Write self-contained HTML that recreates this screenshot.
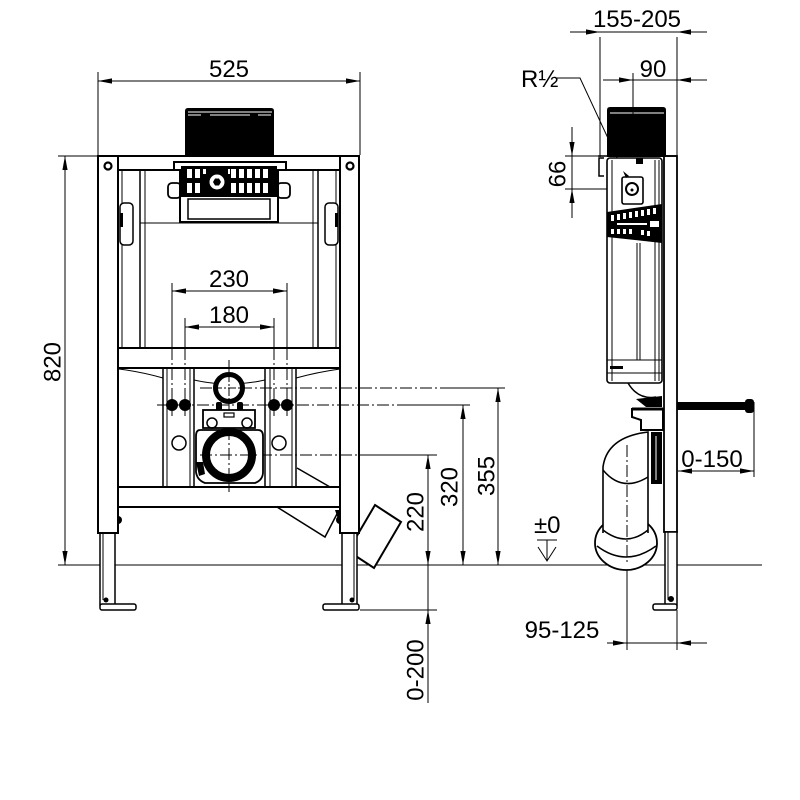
<!DOCTYPE html>
<html><head><meta charset="utf-8"><style>
html,body{margin:0;padding:0;background:#fff;}
svg{display:block;}
text{font-family:"Liberation Sans",Arial,sans-serif;font-size:24px;fill:#000;stroke:none;}
</style></head><body>
<svg width="800" height="800" viewBox="0 0 800 800" xmlns="http://www.w3.org/2000/svg">
<defs>
<marker id="a" viewBox="0 0 14 6" refX="14" refY="3" markerWidth="14" markerHeight="6" orient="auto-start-reverse" markerUnits="userSpaceOnUse"><path d="M0,0.4 L14,3 L0,5.6z" fill="#000"/></marker>
</defs>
<rect width="800" height="800" fill="#fff"/>

<!-- ============ DIMENSIONS ============ -->
<g fill="none" stroke="#000" stroke-width="1">
  <line x1="98" y1="72" x2="98" y2="155"/>
  <line x1="360" y1="72" x2="360" y2="155"/>
  <line x1="98" y1="81" x2="360" y2="81" marker-start="url(#a)" marker-end="url(#a)"/>
  <line x1="58" y1="156" x2="98" y2="156"/>
  <line x1="65" y1="156" x2="65" y2="565" marker-start="url(#a)" marker-end="url(#a)"/>
  <line x1="58" y1="565" x2="762" y2="565"/>
  <line x1="172" y1="283" x2="172" y2="348"/>
  <line x1="287" y1="283" x2="287" y2="348"/>
  <line x1="172" y1="291" x2="287" y2="291" marker-start="url(#a)" marker-end="url(#a)"/>
  <line x1="185" y1="318" x2="185" y2="348"/>
  <line x1="274" y1="318" x2="274" y2="348"/>
  <line x1="185" y1="327" x2="274" y2="327" marker-start="url(#a)" marker-end="url(#a)"/>
  <line x1="498" y1="388" x2="498" y2="565" marker-start="url(#a)" marker-end="url(#a)"/>
  <line x1="463" y1="405" x2="463" y2="565" marker-start="url(#a)" marker-end="url(#a)"/>
  <line x1="428" y1="455" x2="428" y2="565" marker-start="url(#a)" marker-end="url(#a)"/>
  <line x1="428" y1="565" x2="428" y2="610"/>
  <line x1="428" y1="703" x2="428" y2="610" marker-end="url(#a)"/>
  <line x1="360" y1="610" x2="437" y2="610"/>
  <line x1="600" y1="37" x2="600" y2="157"/>
  <line x1="677" y1="37" x2="677" y2="157"/>
  <line x1="600" y1="32" x2="677" y2="32"/>
  <line x1="570" y1="32" x2="600" y2="32" marker-end="url(#a)"/>
  <line x1="707" y1="32" x2="677" y2="32" marker-end="url(#a)"/>
  <line x1="633" y1="73" x2="633" y2="108"/>
  <line x1="603" y1="80" x2="707" y2="80"/>
  <line x1="603" y1="80" x2="633" y2="80" marker-end="url(#a)"/>
  <line x1="707" y1="80" x2="677" y2="80" marker-end="url(#a)"/>
  <line x1="565" y1="156" x2="607" y2="156"/>
  <line x1="565" y1="189" x2="648" y2="189"/>
  <line x1="572" y1="127" x2="572" y2="218"/>
  <line x1="572" y1="127" x2="572" y2="156" marker-end="url(#a)"/>
  <line x1="572" y1="218" x2="572" y2="189" marker-end="url(#a)"/>
  <polyline points="557,78 580,78 626,177"/>
  <line x1="754" y1="402" x2="754" y2="477"/>
  <line x1="678" y1="471" x2="754" y2="471" marker-start="url(#a)" marker-end="url(#a)"/>
  <line x1="627" y1="565" x2="627" y2="650"/>
  <line x1="677" y1="610" x2="677" y2="650"/>
  <line x1="607" y1="643" x2="707" y2="643"/>
  <line x1="607" y1="643" x2="627" y2="643" marker-end="url(#a)"/>
  <line x1="707" y1="643" x2="677" y2="643" marker-end="url(#a)"/>
  <line x1="537" y1="540" x2="557" y2="540"/>
  <line x1="547" y1="540" x2="547" y2="561"/>
  <polyline points="538,547 547,561 556,547"/>
</g>

<!-- ============ FRONT VIEW ============ -->
<g fill="none" stroke="#000">
  <polygon points="375,505 401,522 374,568 348,551" fill="#fff" stroke-width="2"/>
  <polyline points="277,507 325,537 338,512" stroke-width="1.5"/>
  <polygon points="335,510 340,510 340,525" fill="#000" stroke="none"/>
  <rect x="100" y="533" width="15" height="72" fill="#fff" stroke-width="1.5"/>
  <line x1="103" y1="533" x2="103" y2="600" stroke-width="1"/>
  <rect x="100" y="604" width="36" height="6" rx="2" fill="#fff" stroke-width="1.5"/>
  <circle cx="106" cy="600" r="2.5" fill="#000" stroke="none"/>
  <rect x="342" y="533" width="15" height="72" fill="#fff" stroke-width="1.5"/>
  <line x1="354" y1="533" x2="354" y2="600" stroke-width="1"/>
  <rect x="323" y="604" width="36" height="6" rx="2" fill="#fff" stroke-width="1.5"/>
  <circle cx="352" cy="600" r="2.5" fill="#000" stroke="none"/>

  <rect x="98" y="156" width="20" height="377" fill="#fff" stroke-width="2"/>
  <rect x="340" y="156" width="19" height="377" fill="#fff" stroke-width="2"/>
  <circle cx="108" cy="166" r="3.5" stroke-width="2.2"/>
  <circle cx="350" cy="166" r="3.5" stroke-width="2.2"/>
  <rect x="118" y="156" width="222" height="14" fill="#fff" stroke-width="2"/>
  <rect x="118" y="348" width="222" height="20" fill="#fff" stroke-width="2"/>
  <rect x="118" y="487" width="222" height="20" fill="#fff" stroke-width="2"/>
  <g stroke-width="1">
    <line x1="122" y1="170" x2="122" y2="348"/>
    <line x1="140" y1="170" x2="140" y2="348" stroke-width="1.5"/>
    <line x1="145" y1="170" x2="145" y2="348"/>
    <line x1="313" y1="170" x2="313" y2="348"/>
    <line x1="318" y1="170" x2="318" y2="348" stroke-width="1.5"/>
    <line x1="336" y1="170" x2="336" y2="348"/>
    <line x1="140" y1="223" x2="318" y2="223"/>
  </g>
  <rect x="120" y="203" width="13" height="42" rx="4" fill="#fff" stroke-width="1.5"/>
  <rect x="120" y="213" width="3" height="14" fill="#000" stroke="none"/>
  <rect x="325" y="203" width="13" height="42" rx="4" fill="#fff" stroke-width="1.5"/>
  <rect x="335" y="213" width="3" height="14" fill="#000" stroke="none"/>
  <path d="M185,157 L185,111 Q185,108 188,108 L271,108 Q274,108 274,111 L274,157 Z" fill="#000" stroke="none"/>
  <line x1="188" y1="112" x2="272" y2="112" stroke="#fff" stroke-width="1"/>
  <g stroke="#fff" stroke-width="1">
    <line x1="188" y1="115" x2="201" y2="115"/>
    <line x1="210" y1="115" x2="250" y2="115"/>
    <line x1="258" y1="115" x2="271" y2="115"/>
  </g>
  <line x1="98" y1="156" x2="359" y2="156" stroke-width="2"/>
  <rect x="168" y="183" width="13" height="15" rx="4" fill="#fff" stroke-width="1.8"/>
  <rect x="277" y="183" width="13" height="15" rx="4" fill="#fff" stroke-width="1.8"/>
  <polygon points="174,170 174,162 286,162 286,170 278,170 278,222 180,222 180,170" fill="#fff" stroke-width="2"/>
  <rect x="181" y="166" width="96" height="31" fill="#000" stroke="none"/>
  <g fill="#fff" stroke="none">
    <rect x="187" y="169" width="5" height="9"/><rect x="195" y="169" width="5" height="9"/>
    <rect x="231" y="169" width="5" height="9"/><rect x="239" y="169" width="5" height="9"/>
    <rect x="247" y="169" width="5" height="9"/><rect x="255" y="169" width="5" height="9"/>
    <rect x="263" y="169" width="5" height="9"/>
    <rect x="187" y="183" width="5" height="10"/><rect x="195" y="183" width="5" height="10"/>
    <rect x="231" y="183" width="5" height="10"/><rect x="239" y="183" width="5" height="10"/>
    <rect x="247" y="183" width="5" height="10"/><rect x="255" y="183" width="5" height="10"/>
    <rect x="263" y="183" width="5" height="10"/>
    <rect x="203" y="169" width="3" height="5"/><rect x="228" y="169" width="2" height="5"/>
    <rect x="188" y="199" width="82" height="20"/>
  </g>
  <circle cx="217" cy="182" r="9" fill="#fff" stroke="#000" stroke-width="3"/>
  <polygon points="221,182 219,185.5 215,185.5 213,182 215,178.5 219,178.5" fill="#000" stroke="none"/>
  <rect x="188" y="199" width="82" height="20" stroke-width="1.5"/>
  <g fill="#fff" stroke="none">
    <rect x="183" y="201" width="3" height="3"/><rect x="183" y="207" width="3" height="3"/><rect x="183" y="213" width="3" height="3"/>
    <rect x="272" y="201" width="3" height="3"/><rect x="272" y="207" width="3" height="3"/><rect x="272" y="213" width="3" height="3"/>
  </g>

  <g stroke-width="1.5">
    <line x1="163" y1="368" x2="163" y2="487"/>
    <line x1="167" y1="368" x2="167" y2="487" stroke-width="1"/>
    <line x1="190" y1="368" x2="190" y2="487" stroke-width="1"/>
    <line x1="194" y1="368" x2="194" y2="487"/>
    <line x1="265" y1="368" x2="265" y2="487"/>
    <line x1="270" y1="368" x2="270" y2="487" stroke-width="1"/>
    <line x1="292" y1="368" x2="292" y2="487" stroke-width="1"/>
    <line x1="296" y1="368" x2="296" y2="487"/>
  </g>
  <path d="M119,369 Q142,372 163,378" stroke-width="1"/>
  <path d="M296,378 Q318,372 340,369" stroke-width="1"/>
  <path d="M194,380 Q229,388 265,380" stroke-width="1"/>
  <path d="M297,468 L330,487" stroke-width="1.5"/>
  <g stroke-width="1" stroke-dasharray="12 3 2 3">
    <line x1="172" y1="348" x2="172" y2="416"/>
    <line x1="185" y1="348" x2="185" y2="416"/>
    <line x1="274" y1="348" x2="274" y2="416"/>
    <line x1="287" y1="348" x2="287" y2="416"/>
    <line x1="229" y1="360" x2="229" y2="492"/>
    <line x1="200" y1="388" x2="440" y2="388"/>
    <line x1="157" y1="405" x2="400" y2="405"/>
    <line x1="200" y1="455" x2="370" y2="455"/>
  </g>
  <g stroke-width="1">
    <line x1="440" y1="388" x2="505" y2="388"/>
    <line x1="400" y1="405" x2="470" y2="405"/>
    <line x1="370" y1="455" x2="437" y2="455"/>
  </g>
  <circle cx="229" cy="388" r="13.5" fill="#fff" stroke-width="5"/>
  <line x1="229" y1="374" x2="229" y2="402" stroke-width="1" stroke-dasharray="8 2 2 2"/>
  <line x1="214" y1="388" x2="244" y2="388" stroke-width="1" stroke-dasharray="8 2 2 2"/>
  <g fill="#000" stroke="none">
    <circle cx="172" cy="405" r="6"/><circle cx="185" cy="405" r="6"/>
    <circle cx="274" cy="405" r="6"/><circle cx="287" cy="405" r="6"/>
    <rect x="216" y="402" width="6" height="9" rx="2"/>
    <rect x="237" y="402" width="6" height="9" rx="2"/>
  </g>
  <rect x="203" y="410" width="52" height="18" fill="#fff" stroke-width="1.8"/>
  <rect x="224" y="413" width="10" height="4" stroke-width="1.2"/>
  <circle cx="212" cy="423" r="5" stroke-width="1.5"/>
  <circle cx="247" cy="423" r="5" stroke-width="1.5"/>
  <circle cx="179" cy="443" r="7" stroke-width="1.5"/>
  <circle cx="279" cy="443" r="7" stroke-width="1.5"/>
  <path d="M200,430 L258,430 Q263,430 263,436 L263,472 Q263,480 255,483 L205,483 Q197,480 196,472 L196,436 Q196,430 200,430 Z" fill="#fff" stroke-width="1.8"/>
  <path d="M196,462 L203,462 L205,474 L199,476 Z" fill="#000" stroke="none"/>
  <circle cx="229" cy="455" r="23" fill="#fff" stroke-width="8"/>
  <line x1="229" y1="428" x2="229" y2="492" stroke-width="1" stroke-dasharray="12 3 2 3"/>
  <line x1="200" y1="455" x2="258" y2="455" stroke-width="1" stroke-dasharray="12 3 2 3"/>
  <path d="M118,516 A4,4 0 0,1 118,524 Z" fill="#000" stroke="none"/>
  <path d="M340,516 A4,4 0 0,0 340,524 Z" fill="#000" stroke="none"/>
  <line x1="98" y1="533" x2="118" y2="533" stroke-width="2"/>
  <line x1="340" y1="533" x2="359" y2="533" stroke-width="2"/>
</g>

<!-- ============ SIDE VIEW ============ -->
<g fill="none" stroke="#000">
  <ellipse cx="626" cy="543" rx="31" ry="27" fill="#fff" stroke-width="1.8"/>
  <path d="M597,546 Q626,568 656,546" stroke-width="1.5"/>
  <path d="M603,533 L603,467 Q607,437 648,432 L648,533" fill="#fff" stroke-width="1.6"/>
  <path d="M603,470 Q622,493 648,477" stroke-width="1.5"/>
  <path d="M603,530 Q626,548 648,530" stroke-width="1.5"/>
  <line x1="627" y1="445" x2="627" y2="565" stroke-width="1" stroke-dasharray="12 3 2 3"/>
  <rect x="651" y="432" width="11" height="52" fill="#000" stroke="none"/>
  <line x1="656" y1="436" x2="656" y2="480" stroke="#fff" stroke-width="1"/>
  <rect x="664" y="156" width="13" height="376" fill="#fff" stroke-width="1.8"/>
  <rect x="665" y="532" width="12" height="73" fill="#fff" stroke-width="1.5"/>
  <line x1="668" y1="532" x2="668" y2="600" stroke-width="1"/>
  <rect x="653" y="604" width="24" height="6" rx="2" fill="#fff" stroke-width="1.5"/>
  <circle cx="671" cy="599" r="3" fill="#000" stroke="none"/>
  <rect x="677" y="402" width="70" height="8" fill="#000" stroke="none"/>
  <rect x="745" y="399" width="9" height="14" rx="3" fill="#000" stroke="none"/>
  <path d="M607,157 L607,110 Q607,107 610,107 L663,107 Q666,107 666,110 L666,157 Z" fill="#000" stroke="none"/>
  <line x1="610" y1="113" x2="664" y2="113" stroke="#fff" stroke-width="1"/>
  <line x1="633" y1="107" x2="633" y2="116" stroke="#000" stroke-width="1"/>
  <line x1="598" y1="156" x2="677" y2="156" stroke-width="1.5"/>
  <polyline points="604,158 599,158 599,176 604,176" stroke-width="1.5"/>
  <rect x="607" y="158" width="55" height="225" rx="3" fill="#fff" stroke-width="1.6"/>
  <g stroke-width="1">
    <line x1="612" y1="160" x2="612" y2="381"/>
    <line x1="637" y1="243" x2="637" y2="360"/>
    <line x1="640" y1="243" x2="640" y2="360"/>
    <line x1="655" y1="160" x2="655" y2="381"/>
    <line x1="659" y1="160" x2="659" y2="381"/>
    <line x1="607" y1="360" x2="662" y2="360"/>
    <line x1="607" y1="373" x2="662" y2="373"/>
  </g>
  <rect x="636" y="158" width="7" height="6" fill="#000" stroke="none"/>
  <rect x="610" y="366" width="13" height="3" fill="#000" stroke="none"/>
  <polygon points="607,212 662,204 662,243 607,237" fill="#000" stroke="none"/>
  <g fill="#fff" stroke="none">
    <rect x="611" y="215" width="3" height="6"/><rect x="617" y="214" width="3" height="6"/>
    <rect x="623" y="213" width="3" height="6"/><rect x="629" y="212" width="3" height="6"/>
    <rect x="635" y="211" width="3" height="6"/><rect x="641" y="210" width="3" height="6"/>
    <rect x="647" y="209" width="3" height="6"/><rect x="653" y="208" width="3" height="6"/>
    <rect x="617" y="223" width="30" height="2"/>
    <rect x="650" y="221" width="9" height="6"/>
    <rect x="611" y="229" width="3" height="5"/><rect x="617" y="229" width="3" height="5"/>
    <rect x="623" y="229" width="3" height="5"/><rect x="629" y="229" width="3" height="5"/>
    <rect x="641" y="230" width="3" height="5"/><rect x="647" y="231" width="3" height="5"/>
  </g>
  <rect x="622" y="177" width="21" height="27" rx="2" fill="#fff" stroke-width="1.6"/>
  <circle cx="632" cy="189" r="6" stroke-width="2"/>
  <circle cx="632" cy="190" r="1.5" fill="#000" stroke="none"/>
  <polygon points="623,171 629,176 626,178" fill="#000" stroke="none"/>
  <path d="M628,383 Q638,400 656,397" stroke-width="1.5"/>
  <polygon points="636,399 662,396 662,407 646,407" fill="#000" stroke="none"/>
  <polygon points="632,409 663,409 663,430 641,430 641,420 632,417" fill="#fff" stroke-width="2"/>
  <line x1="632" y1="409" x2="663" y2="409" stroke-width="3"/>
</g>

<!-- ============ TEXT ============ -->
<text x="229" y="77" text-anchor="middle">525</text>
<text x="229" y="287" text-anchor="middle">230</text>
<text x="229" y="323" text-anchor="middle">180</text>
<text transform="translate(52,362) rotate(-90)" text-anchor="middle" y="8.6">820</text>
<text transform="translate(486,476) rotate(-90)" text-anchor="middle" y="8.6">355</text>
<text transform="translate(449,487) rotate(-90)" text-anchor="middle" y="8.6">320</text>
<text transform="translate(415,512) rotate(-90)" text-anchor="middle" y="8.6">220</text>
<text transform="translate(415,670) rotate(-90)" text-anchor="middle" y="8.6">0-200</text>
<text transform="translate(557,174) rotate(-90)" text-anchor="middle" y="8.6">66</text>
<text x="637" y="27" text-anchor="middle">155-205</text>
<text x="653" y="77" text-anchor="middle">90</text>
<text x="521" y="87">R½</text>
<text x="712" y="467" text-anchor="middle">0-150</text>
<text x="534" y="533">±0</text>
<text x="562" y="638" text-anchor="middle">95-125</text>
</svg>
</body></html>
